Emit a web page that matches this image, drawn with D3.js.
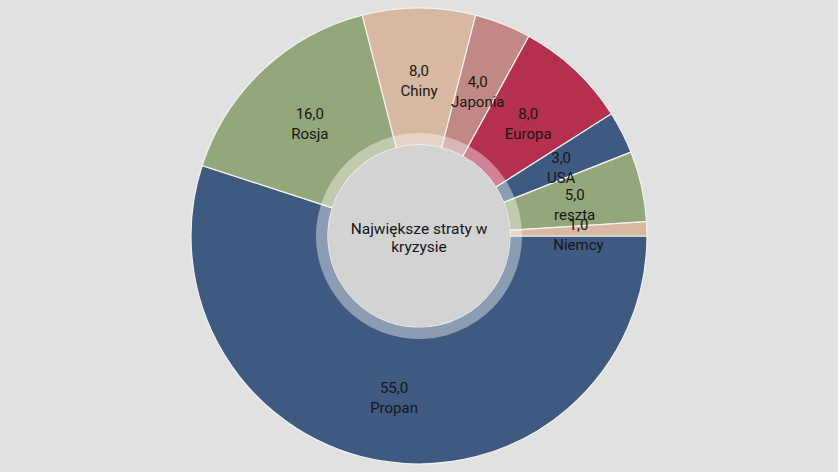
<!DOCTYPE html>
<html>
<head>
<meta charset="utf-8">
<script src="https://cdn.jsdelivr.net/npm/d3@7"></script>
<style>
  html, body { margin: 0; padding: 0; background: #e1e1e1; }
  text { font-family: Roboto, "Noto Sans", sans-serif; }
</style>
</head>
<body>
<div class="chartWrapper"></div>
<script>
const width = 838, height = 472;

const categories = ["Propan", "Rosja", "Chiny", "Japonia", "Europa", "USA", "reszta", "Niemcy"];
const values = [55, 16, 8, 4, 8, 3, 5, 1];
const colors = ["#3f5a80", "#94a77b", "#d8b8a0", "#c28886", "#b5304f", "#3f5a80", "#94a77b", "#d8b8a0"];
const centreLabel = ["Największe straty w", "kryzysie"];

const cx = 419, cy = 236;
const rCentre = 91, rRing = 103, rOuter = 228;

const svg = d3.select(".chartWrapper").append("svg")
  .attr("width", width)
  .attr("height", height);

const g = svg.append("g").attr("transform", `translate(${cx},${cy})`);

const slices = categories.map((name, i) => ({ name, value: values[i], color: colors[i] }));

const pie = d3.pie()
  .sort(null)
  .value(d => d.value)
  .startAngle(Math.PI / 2)
  .endAngle(Math.PI / 2 + Math.PI * 2);

const arcs = pie(slices);

const outerArc = d3.arc().innerRadius(rCentre).outerRadius(rOuter);
const ringArc = d3.arc().innerRadius(rCentre).outerRadius(rRing);

g.selectAll("path.slice")
  .data(arcs)
  .join("path")
  .attr("class", "slice")
  .attr("d", outerArc)
  .attr("fill", d => d.data.color)
  .attr("stroke", "#f2f2f2")
  .attr("stroke-width", 1.2);

// lighter inner ring
g.selectAll("path.ring")
  .data(arcs)
  .join("path")
  .attr("class", "ring")
  .attr("d", ringArc)
  .attr("fill", "#ffffff")
  .attr("fill-opacity", 0.4);

g.append("circle")
  .attr("r", rCentre)
  .attr("fill", "#d3d3d3");

const fmt = d3.formatLocale({ decimal: ",", thousands: " ", grouping: [3], currency: ["", ""] }).format(".1f");

const labels = g.selectAll("g.label")
  .data(arcs)
  .join("g")
  .attr("class", "label")
  .attr("transform", d => `translate(${outerArc.centroid(d)})`);

labels.append("text")
  .attr("text-anchor", "middle")
  .attr("y", -1)
  .attr("font-size", 15)
  .attr("fill", "#161616")
  .text(d => fmt(d.data.value));

labels.append("text")
  .attr("text-anchor", "middle")
  .attr("y", 19)
  .attr("font-size", 15)
  .attr("fill", "#161616")
  .text(d => d.data.name);

g.selectAll("text.centre")
  .data(centreLabel)
  .join("text")
  .attr("class", "centre")
  .attr("text-anchor", "middle")
  .attr("y", (d, i) => -2 + i * 18)
  .attr("font-size", 15.5)
  .attr("fill", "#161616")
  .text(d => d);
</script>
</body>
</html>
